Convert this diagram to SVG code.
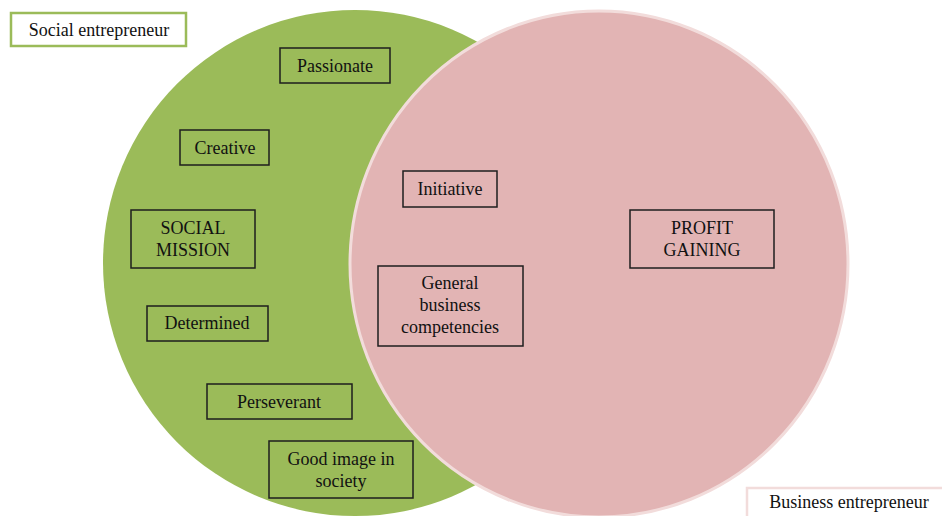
<svg xmlns="http://www.w3.org/2000/svg" width="942" height="516" viewBox="0 0 942 516">
<style>
.box{fill:none;stroke:#1e1e1e;stroke-width:1.5}
.t{font-family:"Liberation Serif","Times New Roman",serif;font-size:18px;fill:#111;text-anchor:middle}
</style>
<rect width="942" height="516" fill="#ffffff"/>
<g id="social-circle"><ellipse cx="355" cy="263" rx="252" ry="253" fill="#9bbb59"/></g>
<g id="business-circle"><ellipse cx="599" cy="264" rx="249" ry="253" fill="#e2b4b4" stroke="#f2dcdb" stroke-width="3"/></g>
<g id="connectors"></g>
<g id="label-social"><rect x="11" y="13" width="175" height="33" fill="#fff" stroke="#9bbb59" stroke-width="2.5"/><text class="t" x="99" y="36">Social entrepreneur</text></g>
<g id="label-business"><rect x="747" y="488" width="200" height="40" fill="#fff" stroke="#f2dcdb" stroke-width="2.5"/><text class="t" x="849" y="508">Business entrepreneur</text></g>
<g id="passionate"><rect class="box" x="280" y="48" width="110" height="35"/><text class="t" x="335" y="72">Passionate</text></g>
<g id="creative"><rect class="box" x="180" y="130" width="89" height="35"/><text class="t" x="225" y="154">Creative</text></g>
<g id="social-mission"><rect class="box" x="131" y="210" width="124" height="58"/><text class="t" x="193" y="234">SOCIAL</text><text class="t" x="193" y="256">MISSION</text></g>
<g id="determined"><rect class="box" x="147" y="306" width="121" height="35"/><text class="t" x="207" y="329">Determined</text></g>
<g id="perseverant"><rect class="box" x="207" y="384" width="145" height="35"/><text class="t" x="279" y="408">Perseverant</text></g>
<g id="good-image"><rect class="box" x="269" y="441" width="144" height="57"/><text class="t" x="341" y="465">Good image in</text><text class="t" x="341" y="487">society</text></g>
<g id="initiative"><rect class="box" x="403" y="171" width="94" height="36"/><text class="t" x="450" y="195">Initiative</text></g>
<g id="general-business"><rect class="box" x="378" y="266" width="145" height="80"/><text class="t" x="450" y="289">General</text><text class="t" x="450" y="311">business</text><text class="t" x="450" y="333">competencies</text></g>
<g id="profit-gaining"><rect class="box" x="630" y="210" width="144" height="58"/><text class="t" x="702" y="234">PROFIT</text><text class="t" x="702" y="256">GAINING</text></g>
</svg>
